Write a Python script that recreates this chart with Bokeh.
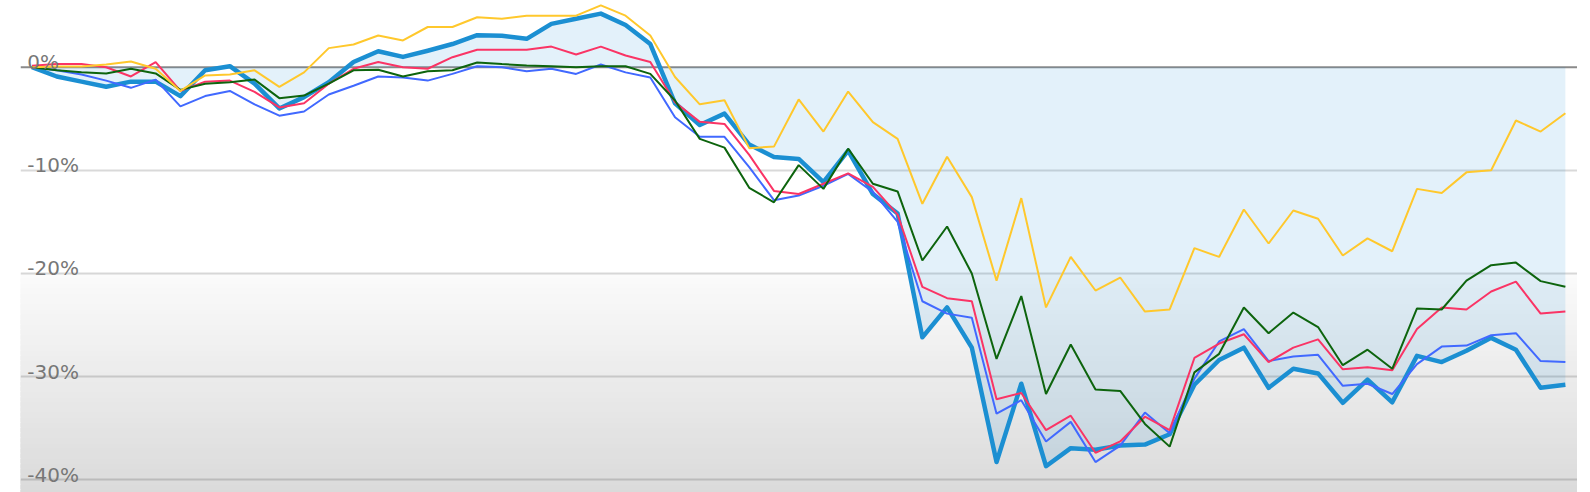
import numpy as np
from bokeh.plotting import figure
from bokeh.models import ColumnDataSource, Span, FixedTicker
from bokeh.core.properties import value
from bokeh.embed import file_html
from bokeh.resources import INLINE

# ---- data (percent change) ----
portfolio = [0, -0.9, -1.4, -1.9, -1.4, -1.4, -2.8, -0.3, 0.1, -1.6, -4.0, -2.9, -1.45, 0.5, 1.55,
             1.0, 1.6, 2.25, 3.1, 3.05, 2.75, 4.2, 4.7, 5.2, 4.1, 2.25, -3.5, -5.6, -4.5, -7.5,
             -8.7, -8.9, -11.15, -8.1, -12.3, -14.2, -26.2, -23.3, -27.2, -38.3, -30.7, -38.7,
             -36.95, -37.1, -36.7, -36.6, -35.6, -30.8, -28.4, -27.2, -31.1, -29.25, -29.7,
             -32.55, -30.3, -32.5, -28.0, -28.6, -27.5, -26.25, -27.4, -31.1, -30.8]
red_series = [0.15, 0.3, 0.3, 0, -0.9, 0.5, -2.3, -1.4, -1.3, -2.4, -3.9, -3.5, -1.6, -0.15, 0.5,
              0, -0.15, 0.97, 1.7, 1.7, 1.7, 2.0, 1.23, 2.0, 1.13, 0.5, -3.4, -5.3, -5.5, -8.5,
              -12.0, -12.3, -11.3, -10.3, -11.6, -14.3, -21.3, -22.4, -22.7, -32.2, -31.6, -35.2,
              -33.8, -37.4, -36.3, -33.9, -35.2, -28.2, -26.8, -25.9, -28.6, -27.2, -26.4,
              -29.3, -29.1, -29.4, -25.4, -23.3, -23.5, -21.75, -20.8, -23.9, -23.7]
green_series = [0, -0.3, -0.5, -0.6, -0.15, -0.6, -2.2, -1.6, -1.45, -1.2, -3.0, -2.75, -1.6, -0.3,
                -0.25, -0.9, -0.4, -0.3, 0.45, 0.3, 0.16, 0.1, 0, 0.1, 0.1, -0.65, -3.23, -6.95,
                -7.8, -11.7, -13.1, -9.5, -11.8, -7.9, -11.3, -12.05, -18.75, -15.45, -20.0,
                -28.3, -22.2, -31.7, -26.9, -31.26, -31.4, -34.6, -36.8, -29.6, -27.8, -23.3,
                -25.8, -23.8, -25.2, -28.9, -27.4, -29.25, -23.4, -23.5, -20.7, -19.2, -18.95,
                -20.75, -21.3]
yellow_series = [0, 0.07, 0.07, 0.26, 0.55, -0.15, -2.3, -0.8, -0.7, -0.3, -1.9, -0.5, 1.85, 2.2,
                 3.07, 2.6, 3.9, 3.9, 4.85, 4.7, 5.0, 5.0, 5.0, 6.0, 5.0, 3.07, -0.95, -3.6, -3.2,
                 -7.85, -7.7, -3.13, -6.24, -2.36, -5.33, -6.95, -13.25, -8.68, -12.6, -20.7,
                 -12.7, -23.3, -18.4, -21.66, -20.4, -23.7, -23.5, -17.55, -18.4, -13.8, -17.1,
                 -13.9, -14.7, -18.26, -16.6, -17.85, -11.8, -12.2, -10.2, -10.0, -5.17, -6.24,
                 -4.46]
blue_series = [0, -0.3, -0.7, -1.3, -2.0, -1.2, -3.8, -2.8, -2.3, -3.6, -4.7, -4.3, -2.65, -1.8,
               -0.9, -1.0, -1.3, -0.65, 0.1, 0, -0.4, -0.15, -0.65, 0.26, -0.5, -1.0, -4.85,
               -6.75, -6.75, -9.7, -12.9, -12.45, -11.5, -10.35, -12.1, -15.0, -22.7, -23.9,
               -24.3, -33.6, -32.3, -36.3, -34.4, -38.3, -36.7, -33.5, -35.5, -30.2, -26.6,
               -25.4, -28.5, -28.06, -27.9, -30.9, -30.7, -31.7, -28.8, -27.1, -27.0, -26.0,
               -25.8, -28.5, -28.6]
tick_values = [0, -10, -20, -30, -40]
tick_labels = ["0%", "-10%", "-20%", "-30%", "-40%"]

idx = list(range(len(portfolio)))

p = figure(width=1577, height=492, output_backend="svg", toolbar_location=None,
           x_range=(-0.465, 62.49), y_range=(-41.25, 6.47),
           x_axis_location=None, y_axis_location=None,
           min_border_left=20, min_border_right=0, min_border_top=0, min_border_bottom=0)
p.outline_line_color = None
p.background_fill_color = "white"
p.border_fill_color = "white"

# gradient background below -20% (overlapping bands to avoid seams)
edges = np.linspace(-20, -42, 45)
shades = np.linspace(251, 218, len(edges) - 1).astype(int)
bg = ColumnDataSource(dict(top=edges[:-1], bottom=edges[1:] - 0.4,
                           color=["#%02x%02x%02x" % (s, s, s) for s in shades]))
r = p.quad(left=-1, right=63, top="top", bottom="bottom", fill_color="color",
           line_color=None, source=bg)
r.level = "image"

p.xgrid.visible = False
p.ygrid.ticker = FixedTicker(ticks=tick_values[1:])
p.ygrid.grid_line_color = "black"
p.ygrid.grid_line_alpha = 0.15
p.ygrid.grid_line_width = 2

p.varea(x=idx, y1=[0] * len(idx), y2=portfolio, fill_color="#1b8fd2", fill_alpha=0.12)

zero = Span(location=0, dimension="width", line_color="#8a8a8a", line_width=2, level="underlay")
p.add_layout(zero)

p.line(idx, portfolio, line_color="#1b8fd2", line_width=4.5, line_join="round")
p.line(idx, blue_series, line_color="#4169ff", line_width=2)
p.line(idx, red_series, line_color="#fa3465", line_width=2)
p.line(idx, green_series, line_color="#0d640d", line_width=2)
p.line(idx, yellow_series, line_color="#ffc82c", line_width=2)

lbl = ColumnDataSource(dict(x=[-0.19] * len(tick_values), y=tick_values, t=tick_labels))
p.text(x="x", y="y", text="t", source=lbl, text_font=value("DejaVu Sans"),
       text_font_size="20px", text_color="#777777", text_baseline="alphabetic",
       text_align="left", y_offset=-5)

open("out.html", "w").write(file_html(p, INLINE))
